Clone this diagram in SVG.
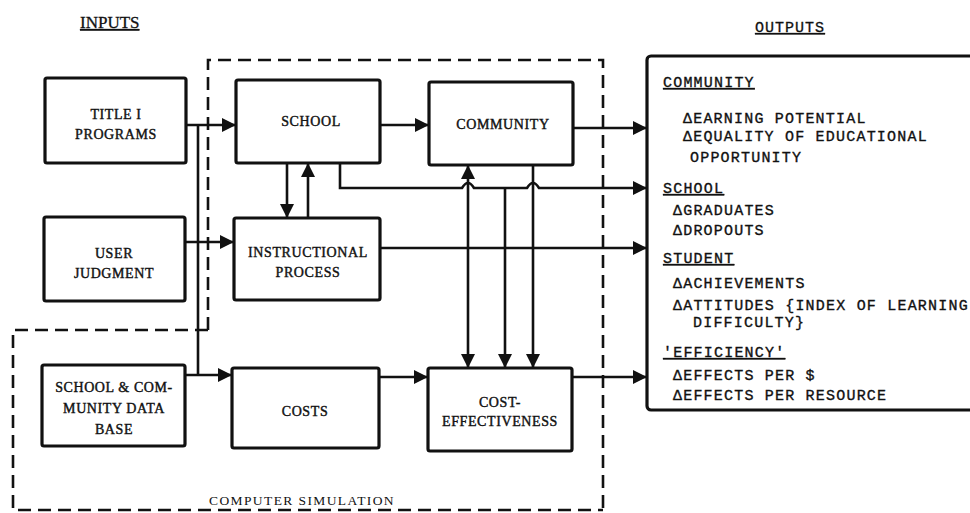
<svg xmlns="http://www.w3.org/2000/svg" width="970" height="513" viewBox="0 0 970 513">
<style>
.box{fill:#fff;stroke:#111;stroke-width:3.2}
.lbl{font-family:"Liberation Serif",serif;font-size:14px;letter-spacing:0.6px;fill:#111;stroke:#111;stroke-width:0.4;text-anchor:middle}
.out{font-family:"Liberation Mono",monospace;font-size:15px;letter-spacing:1.2px;fill:#111;stroke:#111;stroke-width:0.35}
.hd{text-decoration:underline}
.conn{fill:none;stroke:#111;stroke-width:2.6}
.dash{fill:none;stroke:#111;stroke-width:2.6;stroke-dasharray:13 7}
</style>
<defs>
<marker id="ah" viewBox="0 0 14 14" refX="14" refY="7" markerWidth="14" markerHeight="14" markerUnits="userSpaceOnUse" orient="auto-start-reverse">
<path d="M0,0 L14,7 L0,14 z" fill="#111"/>
</marker>
</defs>
<rect width="970" height="513" fill="#fff"/>

<text x="80" y="28" font-family="Liberation Serif,serif" font-size="17" fill="#111" stroke="#111" stroke-width="0.3" text-decoration="underline">INPUTS</text>
<text x="755" y="32" font-family="Liberation Mono,monospace" font-size="15" letter-spacing="1" fill="#111" stroke="#111" stroke-width="0.3" text-decoration="underline">OUTPUTS</text>

<g id="simulation-boundary">
<path class="dash" d="M208,330 V60 H603 V513"/>
<path class="dash" d="M208,330 H13 V510 H603"/>
<text x="302" y="505" font-family="Liberation Serif,serif" font-size="13.5" letter-spacing="1.4" fill="#111" text-anchor="middle">COMPUTER SIMULATION</text>
</g>

<g id="connectors">
<path class="conn" d="M186,125 H236" marker-end="url(#ah)"/>
<path class="conn" d="M198,125 V375"/>
<path class="conn" d="M185,242 H234" marker-end="url(#ah)"/>
<path class="conn" d="M185,375 H232" marker-end="url(#ah)"/>
<path class="conn" d="M287,163 V218" marker-end="url(#ah)"/>
<path class="conn" d="M308,218 V163" marker-end="url(#ah)"/>
<path class="conn" d="M380,125 H429" marker-end="url(#ah)"/>
<path class="conn" d="M573,128 H647" marker-end="url(#ah)"/>
<path class="conn" d="M340,163 V188 H462 Q468,178 474,188 H527 Q533,178 539,188 H647" marker-end="url(#ah)"/>
<path class="conn" d="M380,248 H647" marker-end="url(#ah)"/>
<path class="conn" d="M468,368 V165" marker-start="url(#ah)" marker-end="url(#ah)"/>
<path class="conn" d="M505,188 V368" marker-end="url(#ah)"/>
<path class="conn" d="M533,165 V368" marker-end="url(#ah)"/>
<path class="conn" d="M379,377 H428" marker-end="url(#ah)"/>
<path class="conn" d="M572,377 H647" marker-end="url(#ah)"/>
</g>

<g id="title1">
<rect class="box" x="45" y="78" width="141" height="85" rx="2"/>
<text class="lbl" x="116" y="119">TITLE I</text>
<text class="lbl" x="116" y="139">PROGRAMS</text>
</g>
<g id="user-judgment">
<rect class="box" x="44" y="217" width="141" height="84" rx="2"/>
<text class="lbl" x="114" y="258">USER</text>
<text class="lbl" x="114" y="278">JUDGMENT</text>
</g>
<g id="data-base">
<rect class="box" x="42" y="365" width="143" height="81" rx="2"/>
<text class="lbl" x="114" y="392">SCHOOL &amp; COM-</text>
<text class="lbl" x="114" y="413">MUNITY DATA</text>
<text class="lbl" x="114" y="434">BASE</text>
</g>
<g id="school">
<rect class="box" x="236" y="80" width="144" height="83" rx="2"/>
<text class="lbl" x="311" y="126">SCHOOL</text>
</g>
<g id="community">
<rect class="box" x="429" y="82" width="144" height="83" rx="2"/>
<text class="lbl" x="503" y="129">COMMUNITY</text>
</g>
<g id="instructional">
<rect class="box" x="234" y="218" width="146" height="82" rx="2"/>
<text class="lbl" x="308" y="257">INSTRUCTIONAL</text>
<text class="lbl" x="308" y="277">PROCESS</text>
</g>
<g id="costs">
<rect class="box" x="232" y="368" width="147" height="80" rx="2"/>
<text class="lbl" x="305" y="416">COSTS</text>
</g>
<g id="cost-effectiveness">
<rect class="box" x="428" y="368" width="144" height="83" rx="2"/>
<text class="lbl" x="500" y="407">COST-</text>
<text class="lbl" x="500" y="426">EFFECTIVENESS</text>
</g>

<g id="outputs">
<rect class="box" x="647" y="56" width="340" height="354" rx="4" stroke-width="3.6"/>
<text class="out hd" x="663" y="87">COMMUNITY</text>
<text class="out" x="683" y="123">ΔEARNING POTENTIAL</text>
<text class="out" x="683" y="141">ΔEQUALITY OF EDUCATIONAL</text>
<text class="out" x="690" y="162">OPPORTUNITY</text>
<text class="out hd" x="663" y="193">SCHOOL</text>
<text class="out" x="673" y="215">ΔGRADUATES</text>
<text class="out" x="673" y="235">ΔDROPOUTS</text>
<text class="out hd" x="663" y="263">STUDENT</text>
<text class="out" x="673" y="288">ΔACHIEVEMENTS</text>
<text class="out" x="673" y="310">ΔATTITUDES {INDEX OF LEARNING</text>
<text class="out" x="693" y="327">DIFFICULTY}</text>
<text class="out hd" x="663" y="357">'EFFICIENCY'</text>
<text class="out" x="673" y="380">ΔEFFECTS PER $</text>
<text class="out" x="673" y="400">ΔEFFECTS PER RESOURCE</text>
</g>
</svg>
